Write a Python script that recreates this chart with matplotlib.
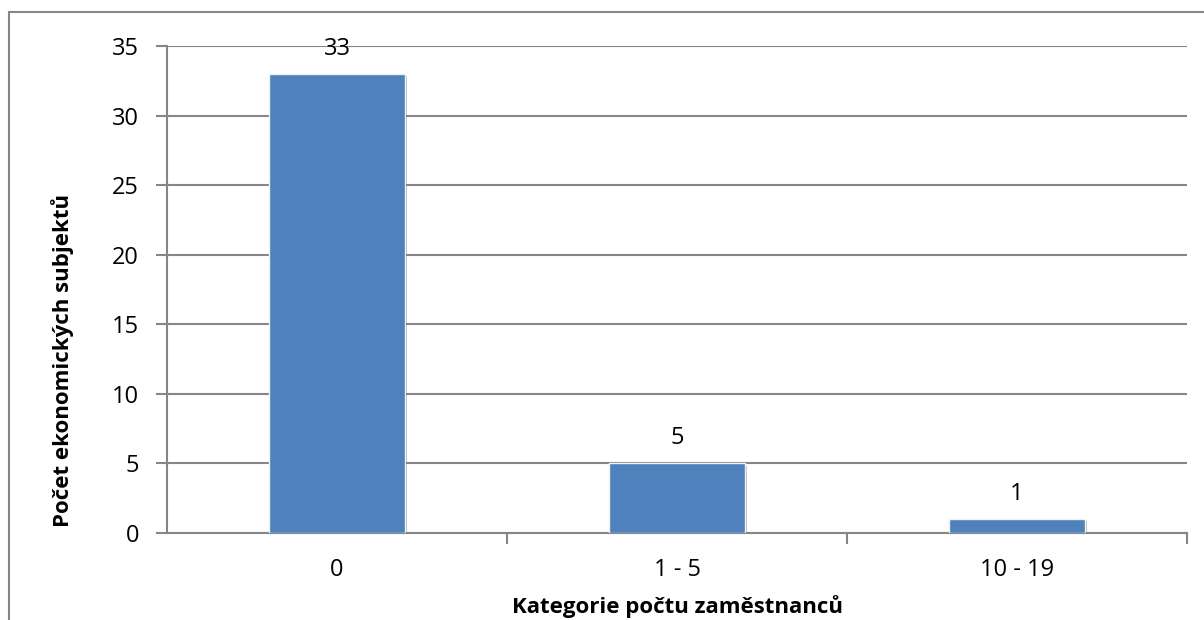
import matplotlib
matplotlib.use("Agg")
import matplotlib.pyplot as plt
from matplotlib.patches import Rectangle
import matplotlib.patheffects as pe
from matplotlib.transforms import offset_copy

categories = ["0", "1 - 5", "10 - 19"]
values = [33, 5, 1]
y_ticks = [0, 5, 10, 15, 20, 25, 30, 35]
x_label = "Kategorie počtu zaměstnanců"
y_label = "Počet ekonomických subjektů"

plt.rcParams['font.family'] = ['Open Sans', 'DejaVu Sans']

W, H = 1204, 620
fig = plt.figure(figsize=(W / 100, H / 100), dpi=100)
ax = fig.add_axes([167 / W, (H - 533) / H, (1187 - 167) / W, (533 - 46) / H])

grey = "#868686"
bar_color = "#4F81BD"

x = list(range(len(categories)))
bars = ax.bar(x, values, width=0.4, color=bar_color, edgecolor="#f2f2f2",
              linewidth=1.0, zorder=3)
for b in bars:
    b.set_path_effects([pe.SimplePatchShadow(offset=(1.5, -1.5), shadow_rgbFace="#000000", alpha=0.25),
                        pe.Normal()])

ax.set_xlim(-0.5, len(categories) - 0.5)
ax.set_ylim(0, 35)
ax.set_yticks(y_ticks)
ax.set_yticklabels([str(t) for t in y_ticks], fontsize=17)
ax.yaxis.grid(True, color=grey, linewidth=1.5, zorder=0)
ax.set_axisbelow(True)

# category boundary ticks (major) and labels at centres (minor)
ax.set_xticks([i + 0.5 for i in range(len(categories))])
ax.set_xticklabels([])
ax.set_xticks(x, minor=True)
ax.set_xticklabels(categories, minor=True, fontsize=17)
ax.tick_params(axis='x', which='major', length=8, width=1.5, color=grey, direction='out')
ax.tick_params(axis='x', which='minor', length=0, pad=18)
ax.tick_params(axis='y', length=8, width=1.5, color=grey, direction='out', pad=12)

for side in ("top", "right"):
    ax.spines[side].set_visible(False)
for side in ("left", "bottom"):
    ax.spines[side].set_color(grey)
    ax.spines[side].set_linewidth(1.5)

trans = offset_copy(ax.transData, fig=fig, x=0, y=19 * 0.72, units='points')
for xi, v in zip(x, values):
    ax.text(xi, v, str(v), transform=trans, ha='center', va='baseline', fontsize=17, zorder=4)

fig.text(677 / W, 1 - 613 / H, x_label, ha='center', va='baseline', fontsize=16, fontweight='bold')
fig.text(63 / W, 1 - 360 / H, y_label, ha='center', va='center', rotation=90, fontsize=16, fontweight='bold')

# outer chart border (extends past right/bottom edges as in the reference)
fig.patches.append(Rectangle((9 / W, -0.1), 1.2, 1 - 12 / H + 0.1, transform=fig.transFigure,
                             fill=False, edgecolor=grey, linewidth=1.5))

fig.savefig("out.png", dpi=100)
